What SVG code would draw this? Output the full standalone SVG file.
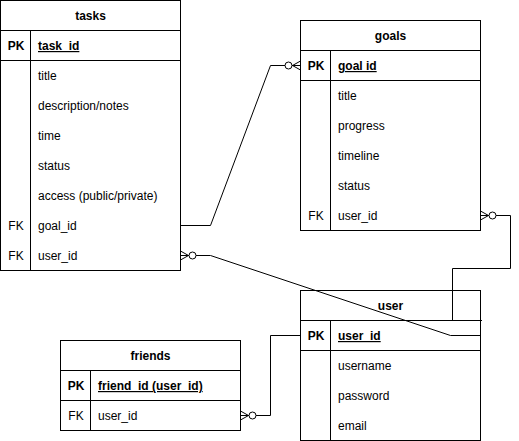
<svg xmlns="http://www.w3.org/2000/svg" width="519" height="441" viewBox="0 0 519 441">
  <style>
    .box { fill: #ffffff; stroke: #000000; stroke-width: 1; }
    .ln { fill: none; stroke: #000000; stroke-width: 1; }
    text { font-family: "Liberation Sans", Arial, sans-serif; font-size: 12px; fill: #000000; }
    .title { font-weight: bold; text-anchor: middle; }
    .key { text-anchor: middle; }
    .pk { font-weight: bold; }
    .pkf { font-weight: bold; text-decoration: underline; }
    .edge { fill: none; stroke: #000000; stroke-width: 1; }
  </style>
  <defs>
    <!-- zero-or-many crow's foot, tip at the entity edge -->
    <marker id="zeroMany" markerUnits="userSpaceOnUse" viewBox="-20 -10 24 20" refX="0" refY="0" markerWidth="24" markerHeight="20" orient="auto-start-reverse" overflow="visible">
      <path d="M-8,0 L0,-4.5 M-8,0 L0,0 M-8,0 L0,4.5" fill="none" stroke="#000000" stroke-width="1"/>
      <circle cx="-12" cy="0" r="3.5" fill="#ffffff" stroke="#000000" stroke-width="1"/>
    </marker>
  </defs>

  <g id="tasks">
    <rect class="box" x="0.5" y="0.5" width="180" height="270"/>
    <path class="ln" d="M0.5,30.5 H180.5 M0.5,60.5 H180.5 M30.5,30.5 V270.5"/>
    <text class="title" x="90.5" y="20">tasks</text>
    <text class="key pk" x="16" y="50">PK</text>
    <text class="pkf" x="38" y="50">task_id</text>
    <text x="38" y="80">title</text>
    <text x="38" y="110">description/notes</text>
    <text x="38" y="140">time</text>
    <text x="38" y="170">status</text>
    <text x="38" y="200">access (public/private)</text>
    <text class="key" x="16" y="230">FK</text>
    <text x="38" y="230">goal_id</text>
    <text class="key" x="16" y="260">FK</text>
    <text x="38" y="260">user_id</text>
  </g>

  <g id="goals">
    <rect class="box" x="300.5" y="20.5" width="180" height="210"/>
    <path class="ln" d="M300.5,50.5 H480.5 M300.5,80.5 H480.5 M330.5,50.5 V230.5"/>
    <text class="title" x="390.5" y="40">goals</text>
    <text class="key pk" x="316" y="70">PK</text>
    <text class="pkf" x="338" y="70">goal id</text>
    <text x="338" y="100">title</text>
    <text x="338" y="130">progress</text>
    <text x="338" y="160">timeline</text>
    <text x="338" y="190">status</text>
    <text class="key" x="316" y="220">FK</text>
    <text x="338" y="220">user_id</text>
  </g>

  <g id="user">
    <rect class="box" x="300.5" y="290.5" width="180" height="150"/>
    <path class="ln" d="M300.5,320.5 H480.5 M300.5,350.5 H480.5 M330.5,320.5 V440.5"/>
    <text class="title" x="390.5" y="310">user</text>
    <text class="key pk" x="316" y="340">PK</text>
    <text class="pkf" x="338" y="340">user_id</text>
    <text x="338" y="370">username</text>
    <text x="338" y="400">password</text>
    <text x="338" y="430">email</text>
  </g>

  <g id="friends">
    <rect class="box" x="60.5" y="340.5" width="180" height="90"/>
    <path class="ln" d="M60.5,370.5 H240.5 M60.5,400.5 H240.5 M90.5,370.5 V430.5"/>
    <text class="title" x="150.5" y="360">friends</text>
    <text class="key pk" x="76" y="390">PK</text>
    <text class="pkf" x="98" y="390">friend_id (user_id)</text>
    <text class="key" x="76" y="420">FK</text>
    <text x="98" y="420">user_id</text>
  </g>

  <g id="connectors">
    <!-- tasks.goal_id -> goals.goal_id -->
    <path class="edge" d="M180.5,225.5 H210.5 L270.5,65.5 H300.5" marker-end="url(#zeroMany)"/>
    <!-- goals.user_id -> user.user_id -->
    <path class="edge" d="M480.5,215.5 H510.5 V268.5 H452.5 V320.5 H482" marker-start="url(#zeroMany)"/>
    <!-- tasks.user_id -> user.user_id -->
    <path class="edge" d="M180.5,255.5 H210.5 L450.5,335.5 H480.5" marker-start="url(#zeroMany)"/>
    <!-- friends.user_id -> user.user_id -->
    <path class="edge" d="M240.5,415.5 H270.5 V335.5 H300.5" marker-start="url(#zeroMany)"/>
  </g>
</svg>
